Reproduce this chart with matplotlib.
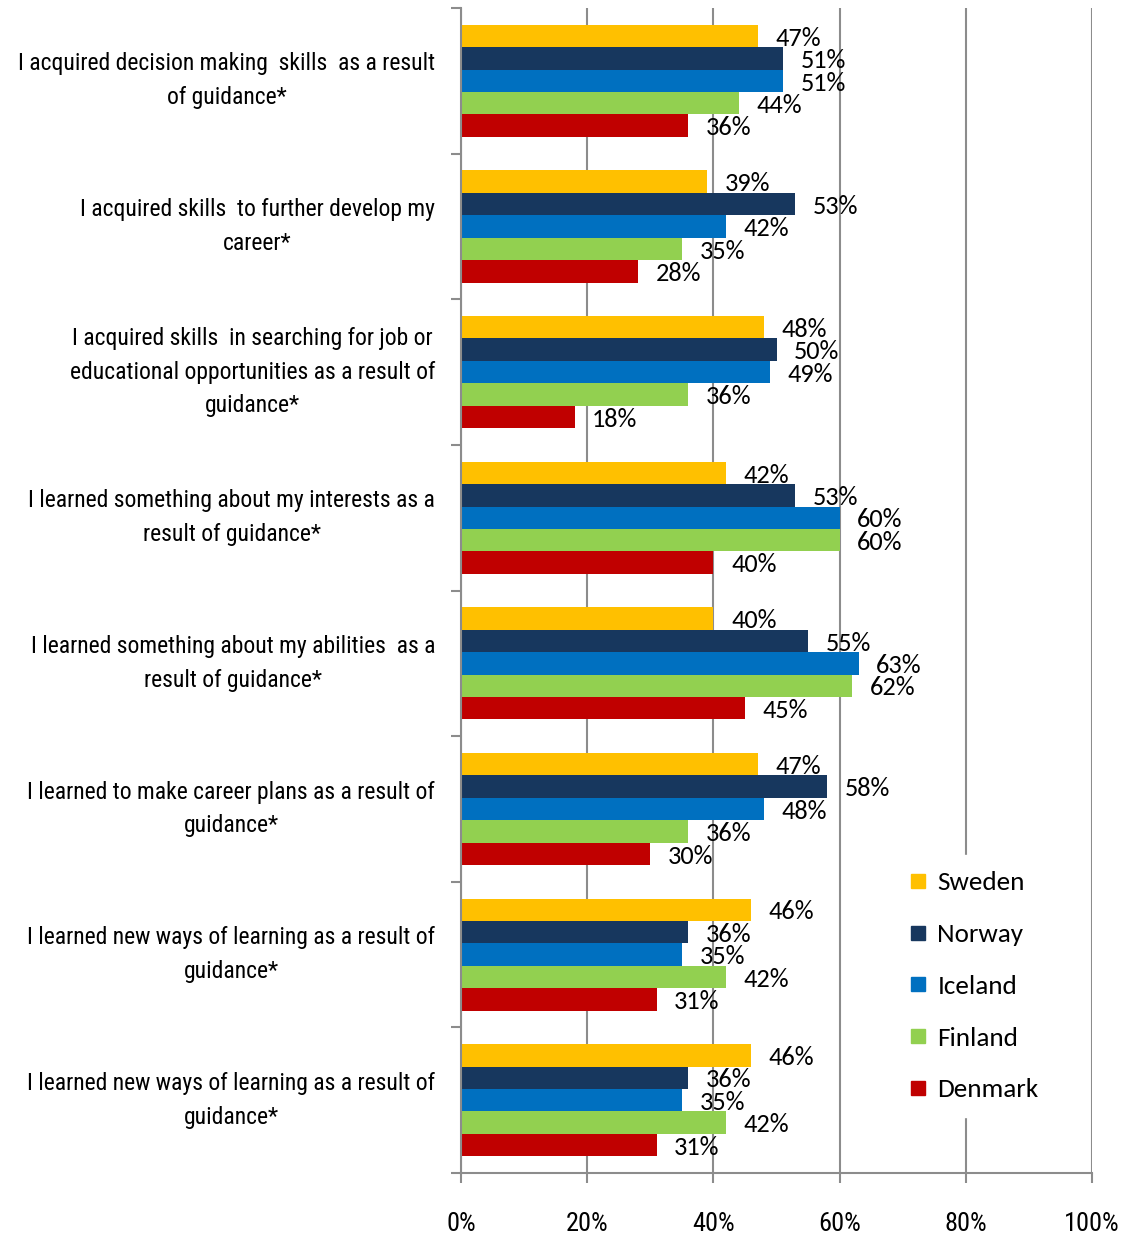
import matplotlib
matplotlib.use("Agg")
import matplotlib.pyplot as plt
from matplotlib.lines import Line2D
import numpy as np

categories = [
    "I acquired decision making  skills  as a result\nof guidance*",
    "I acquired skills  to further develop my\ncareer*",
    "I acquired skills  in searching for job or\neducational opportunities as a result of\nguidance*",
    "I learned something about my interests as a\nresult of guidance*",
    "I learned something about my abilities  as a\nresult of guidance*",
    "I learned to make career plans as a result of\nguidance*",
    "I learned new ways of learning as a result of\nguidance*",
    "I learned new ways of learning as a result of\nguidance*",
]
countries = ["Sweden", "Norway", "Iceland", "Finland", "Denmark"]
colors = ["#FFC000", "#17375E", "#0070C0", "#92D050", "#C00000"]

sweden = [47, 39, 48, 42, 40, 47, 46, 46]
norway = [51, 53, 50, 53, 55, 58, 36, 36]
iceland = [51, 42, 49, 60, 63, 48, 35, 35]
finland = [44, 35, 36, 60, 62, 36, 42, 42]
denmark = [36, 28, 18, 40, 45, 30, 31, 31]
series = [sweden, norway, iceland, finland, denmark]

xticks = [0, 20, 40, 60, 80, 100]

narrow = ["Roboto Condensed", "DejaVu Sans"]
label_font = ["Carlito", "DejaVu Sans"]
grey = "#8C8C8C"

fig = plt.figure(figsize=(11.36, 12.34), dpi=100)
ax = fig.add_axes([0.4058, 0.0494, 0.5555, 0.9441])

h = 0.154
y = np.arange(len(categories))
for j, (vals, col) in enumerate(zip(series, colors)):
    pos = y + (j - 2) * h
    ax.barh(pos, np.array(vals) / 100, height=h, color=col, zorder=2)
    for p, v in zip(pos, vals):
        ax.text(v / 100 + 0.028, p + 0.015, f"{v}%", va="center", ha="left",
                fontsize=19, family=label_font, color="black", zorder=3)

ax.set_xlim(0, 1)
ax.set_ylim(len(categories) - 0.5, -0.5)

ax.set_xticks([t / 100 for t in xticks])
ax.set_xticklabels([f"{t}%" for t in xticks], family=narrow, fontsize=19)
ax.set_yticks(np.arange(-0.5, len(categories), 1))
ax.set_yticklabels([])
ax.tick_params(axis="x", length=7, width=1.5, color=grey, pad=21)
ax.tick_params(axis="y", length=7, width=1.5, color=grey)

for i, cat in enumerate(categories):
    ax.text(-0.041, i, cat, ha="right", va="center", multialignment="center",
            family=narrow, fontsize=17, linespacing=1.6,
            transform=ax.get_yaxis_transform())

ax.set_axisbelow(True)
ax.grid(axis="x", color=grey, linewidth=1.5)
for side in ["top", "right"]:
    ax.spines[side].set_visible(False)
for side in ["left", "bottom"]:
    ax.spines[side].set_color(grey)
    ax.spines[side].set_linewidth(1.5)

handles = [Line2D([], [], marker="s", linestyle="none", markersize=10,
                  markerfacecolor=c, markeredgecolor=c) for c in colors]
leg = fig.legend(handles, countries, loc="upper left",
                 bbox_to_anchor=(0.768, 0.318), frameon=True, fancybox=False,
                 edgecolor="white", facecolor="white", framealpha=1,
                 prop={"family": label_font, "size": 19.5},
                 labelspacing=1.06, handletextpad=0.1, handlelength=1.2,
                 borderpad=0.6)

fig.savefig("out.png", dpi=100)
